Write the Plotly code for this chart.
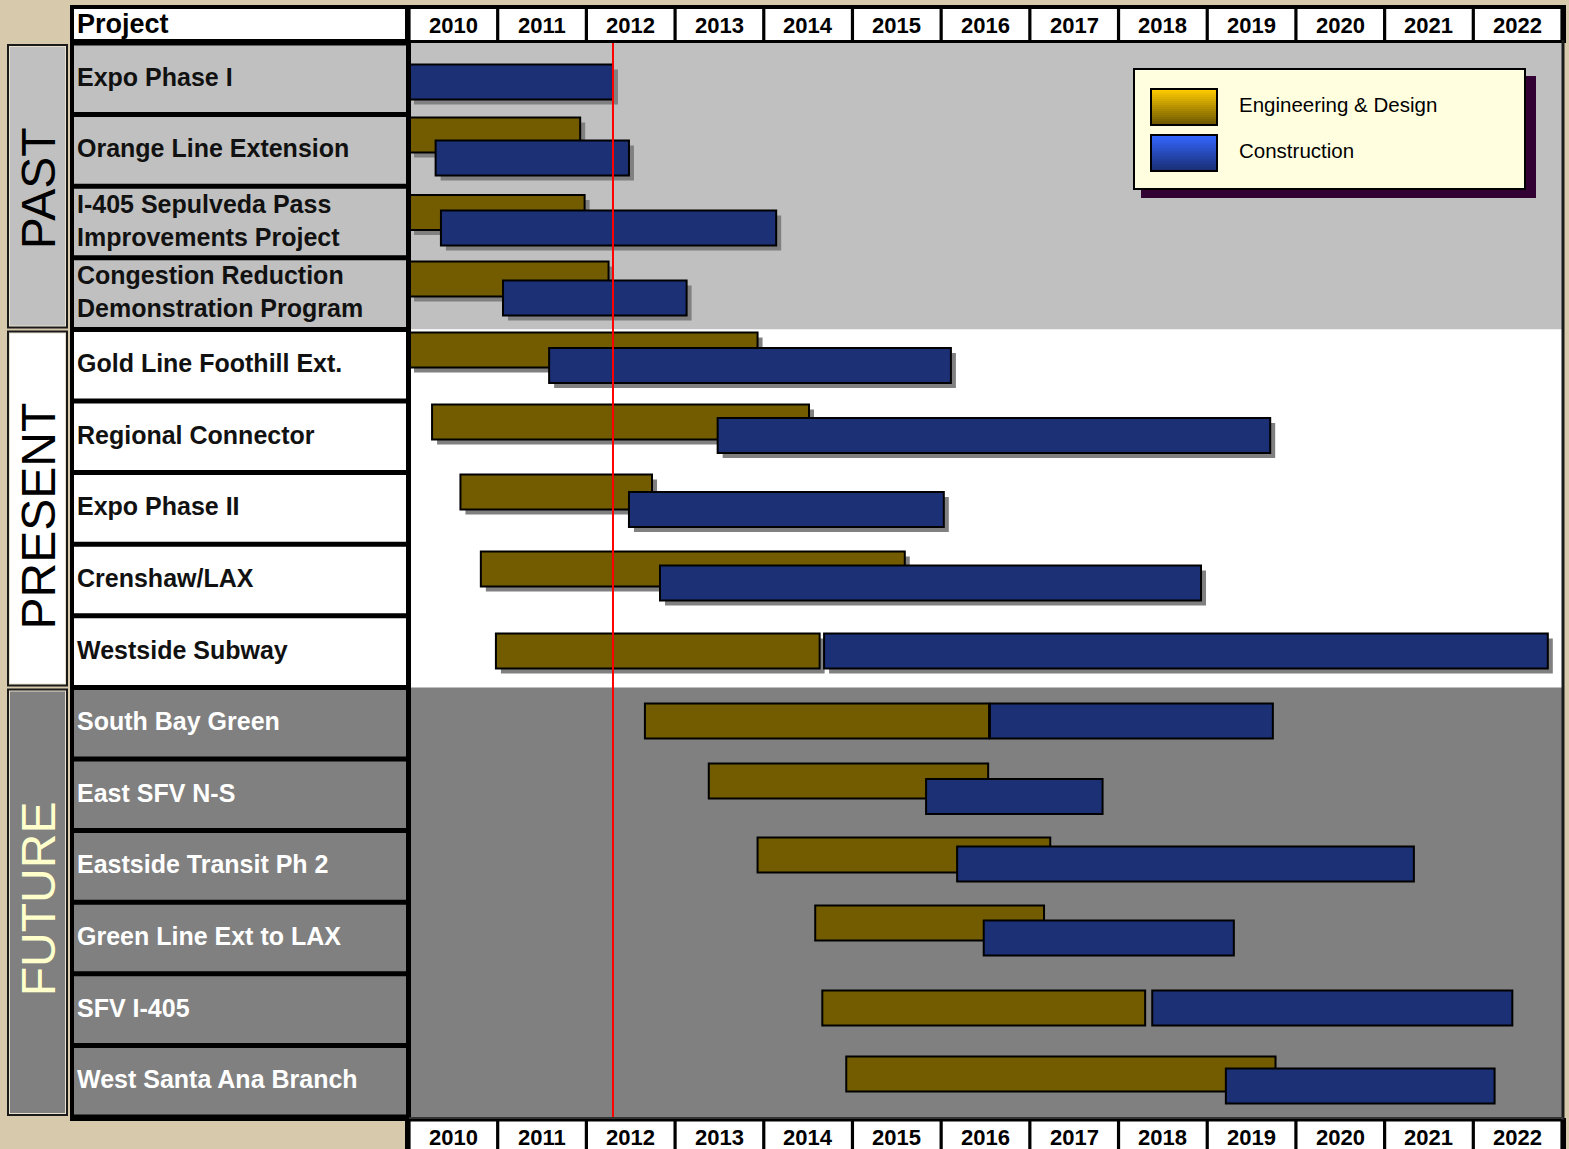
import plotly.graph_objects as go

# ---------------- data ----------------
projects = [
    "Expo Phase I",
    "Orange Line Extension",
    "I-405 Sepulveda Pass<br>Improvements Project",
    "Congestion Reduction<br>Demonstration Program",
    "Gold Line Foothill Ext.",
    "Regional Connector",
    "Expo Phase II",
    "Crenshaw/LAX",
    "Westside Subway",
    "South Bay Green",
    "East SFV N-S",
    "Eastside Transit Ph 2",
    "Green Line Ext to LAX",
    "SFV I-405",
    "West Santa Ana Branch",
]
phases = ["PAST", "PRESENT", "FUTURE"]
phase_counts = [4, 5, 6]
years = list(range(2010, 2023))

ed_start = [None, 2010.00, 2010.00, 2010.00, 2010.00, 2010.26, 2010.58, 2010.81, 2010.98,
            2012.66, 2013.38, 2013.93, 2014.58, 2014.66, 2014.93]
ed_end = [None, 2011.93, 2011.98, 2012.25, 2013.93, 2014.51, 2012.74, 2015.59, 2014.63,
          2016.54, 2016.53, 2017.23, 2017.16, 2018.30, 2019.77]
con_start = [2010.00, 2010.30, 2010.36, 2011.06, 2011.58, 2013.48, 2012.48, 2012.83, 2014.68,
             2016.55, 2015.83, 2016.18, 2016.48, 2018.38, 2019.21]
con_end = [2012.30, 2012.48, 2014.14, 2013.13, 2016.11, 2019.71, 2016.03, 2018.93, 2022.84,
           2019.74, 2017.82, 2021.33, 2019.30, 2022.44, 2022.24]
today = 2012.30
legend_labels = ["Engineering & Design", "Construction"]

# ---------------- layout / style ----------------
W, H = 1569, 1149
L, R, T, B = 409, 7, 43, 32
PW, PH = W - L - R, H - T - B
NROW = len(projects)
RH = PH / NROW
YPX = PW / (years[-1] + 1 - years[0])

# vertical lane offsets of the bars inside each row (pixels from row centre)
ed_off_px = [0, -15.4, -9.5, -14.6, -15.2, -14.8, -16.4, -11, -0.6, -2.2, -13.8, -11.4, -15, -1.6, -7.2]
con_off_px = [3.2, 7.6, 6, 4.4, 0.3, -1.3, 1.1, 3, -0.6, -2.2, 1.7, -2.4, 0, -1.6, 4.8]
# vertical nudges of the section titles (pixels)
phase_label_dy = [2, 8, -3]

ED_COLOR = "#735c00"
CON_COLOR = "#1b3075"
SHADOW = "#808080"
phase_fill = ["#c0c0c0", "#ffffff", "#808080"]
phase_text = ["#000000", "#000000", "#ffffcc"]
label_text = ["#111111", "#111111", "#ffffff"]
PAGE_BG = "#d6c9ac"
FONT = "Liberation Sans, Arial, sans-serif"

BAR_W = 35 / RH
SH_DX = 5 / YPX
SH_DY = 5 / RH


def px(x):
    return (x - L) / PW


def py(y):
    return (H - B - y) / PH


row_phase = []
for k, n in enumerate(phase_counts):
    row_phase += [k] * n

fig = go.Figure()


def add_bars(starts, ends, offs, color, shadow):
    ys, xs, bases = [], [], []
    for i, (s, e) in enumerate(zip(starts, ends)):
        if s is None:
            continue
        y = i + 0.5 + offs[i] / RH
        if shadow:
            ys.append(y + SH_DY)
            bases.append(s + SH_DX)
        else:
            ys.append(y)
            bases.append(s)
        xs.append(e - s)
    if shadow:
        marker = dict(color=SHADOW, line=dict(width=0))
    else:
        marker = dict(color=color, line=dict(color="#000000", width=2))
    fig.add_trace(go.Bar(orientation="h", y=ys, x=xs, base=bases, width=BAR_W,
                         marker=marker, showlegend=False, hoverinfo="skip"))


add_bars(ed_start, ed_end, ed_off_px, ED_COLOR, True)
add_bars(ed_start, ed_end, ed_off_px, ED_COLOR, False)
add_bars(con_start, con_end, con_off_px, CON_COLOR, True)
add_bars(con_start, con_end, con_off_px, CON_COLOR, False)

shapes = []
annotations = []


def prect(x0, y0, x1, y1, fill, line_color=None, lw=0, layer="above"):
    shapes.append(dict(type="rect", xref="paper", yref="paper",
                       x0=px(x0), x1=px(x1), y0=py(y0), y1=py(y1),
                       fillcolor=fill, layer=layer,
                       line=dict(color=line_color or fill, width=lw)))


def text(x, y, s, size, color, xanchor="center", xref="paper", yref="paper", angle=0):
    annotations.append(dict(xref=xref, yref=yref, x=x, y=y, xanchor=xanchor,
                            yanchor="middle", align="left", showarrow=False, text=s,
                            textangle=angle, borderpad=0,
                            font=dict(family=FONT, size=size, color=color)))


# background bands per phase
r0 = 0
for k, n in enumerate(phase_counts):
    shapes.append(dict(type="rect", xref="paper", yref="y", x0=0, x1=1, y0=r0, y1=r0 + n,
                       fillcolor=phase_fill[k], line=dict(width=0), layer="below"))
    r0 += n

# label column
prect(70, 5, 410, 1121, "#000000")
prect(74, 9, 406, 39, "#ffffff")
for i in range(NROW):
    top = T + i * RH
    prect(74, top + 2.5, 406, top + RH - 2.5, phase_fill[row_phase[i]])
    text(px(76), i + 0.5 - 2 / RH, "<b>" + projects[i] + "</b>", 25,
         label_text[row_phase[i]], xanchor="left", yref="y")
text(px(76), py(24), "<b>Project</b>", 27, "#000000", xanchor="left")

# section boxes
r0 = 0
for k, n in enumerate(phase_counts):
    top = T + r0 * RH
    bot = T + (r0 + n) * RH
    prect(7, top + 1, 68, bot - 1, "#1a1a1a")
    prect(9, top + 3, 66, bot - 3, "#e8e0cc")
    prect(10, top + 4, 65, bot - 4, phase_fill[k])
    text(px(38), py((top + bot) / 2 + phase_label_dy[k]), phases[k], 48, phase_text[k], angle=-90)
    r0 += n

# year headers (top & bottom)
prect(405, 5, 1566, 43, "#000000")
prect(405, 1118, 1566, 1160, "#000000")
for yr in years:
    for (y0, y1, yc) in [(9, 40, 25), (1121.5, 1160, 1137)]:
        shapes.append(dict(type="rect", xref="x", yref="paper",
                           x0=yr + 1.6 / YPX, x1=yr + 1 - 1.6 / YPX, y0=py(y0), y1=py(y1),
                           fillcolor="#ffffff", line=dict(width=0), layer="above"))
        text(yr + 0.5, py(yc), "<b>%d</b>" % yr, 22, "#000000", xref="x")

# plot frame
shapes.append(dict(type="line", xref="paper", yref="paper", x0=px(409), x1=px(409),
                   y0=py(40), y1=py(1120), line=dict(color="#000000", width=4)))
shapes.append(dict(type="line", xref="paper", yref="paper", x0=px(1563), x1=px(1563),
                   y0=py(40), y1=py(1120), line=dict(color="#1a1a1a", width=3)))
shapes.append(dict(type="line", xref="paper", yref="paper", x0=px(409), x1=px(1563),
                   y0=py(1118), y1=py(1118), line=dict(color="#333333", width=2)))

# today line
shapes.append(dict(type="line", xref="x", yref="paper", x0=today, x1=today, y0=0, y1=1,
                   line=dict(color="#ff0000", width=2), layer="above"))

# legend
prect(1141, 76, 1536, 198, "#330033")
prect(1134, 69, 1525, 189, "#ffffe0", "#000000", 2)
grads = [((255, 204, 0), (110, 88, 0)), ((51, 102, 255), (26, 47, 117))]
for k, ((c0, c1), (y0, y1)) in enumerate(zip(grads, [(89, 125), (135, 171)])):
    n = 18
    h = (y1 - y0) / n
    for j in range(n):
        t = j / (n - 1)
        c = "rgb(%d,%d,%d)" % tuple(int(a + (b - a) * t) for a, b in zip(c0, c1))
        prect(1151, y0 + j * h, 1217, y0 + (j + 1) * h + 0.6, c)
    prect(1151, y0, 1217, y1, "rgba(0,0,0,0)", "#000000", 2)
    text(px(1238), py((y0 + y1) / 2 - 3), legend_labels[k], 20.5, "#000000", xanchor="left")

fig.update_layout(
    width=W, height=H, autosize=False,
    margin=dict(l=L, r=R, t=T, b=B, pad=0),
    paper_bgcolor=PAGE_BG, plot_bgcolor="#ffffff",
    barmode="overlay",
    xaxis=dict(range=[years[0], years[-1] + 1], visible=False, fixedrange=True),
    yaxis=dict(range=[NROW, 0], visible=False, fixedrange=True),
    shapes=shapes, annotations=annotations,
    showlegend=False,
)

fig.write_html("out.html")
